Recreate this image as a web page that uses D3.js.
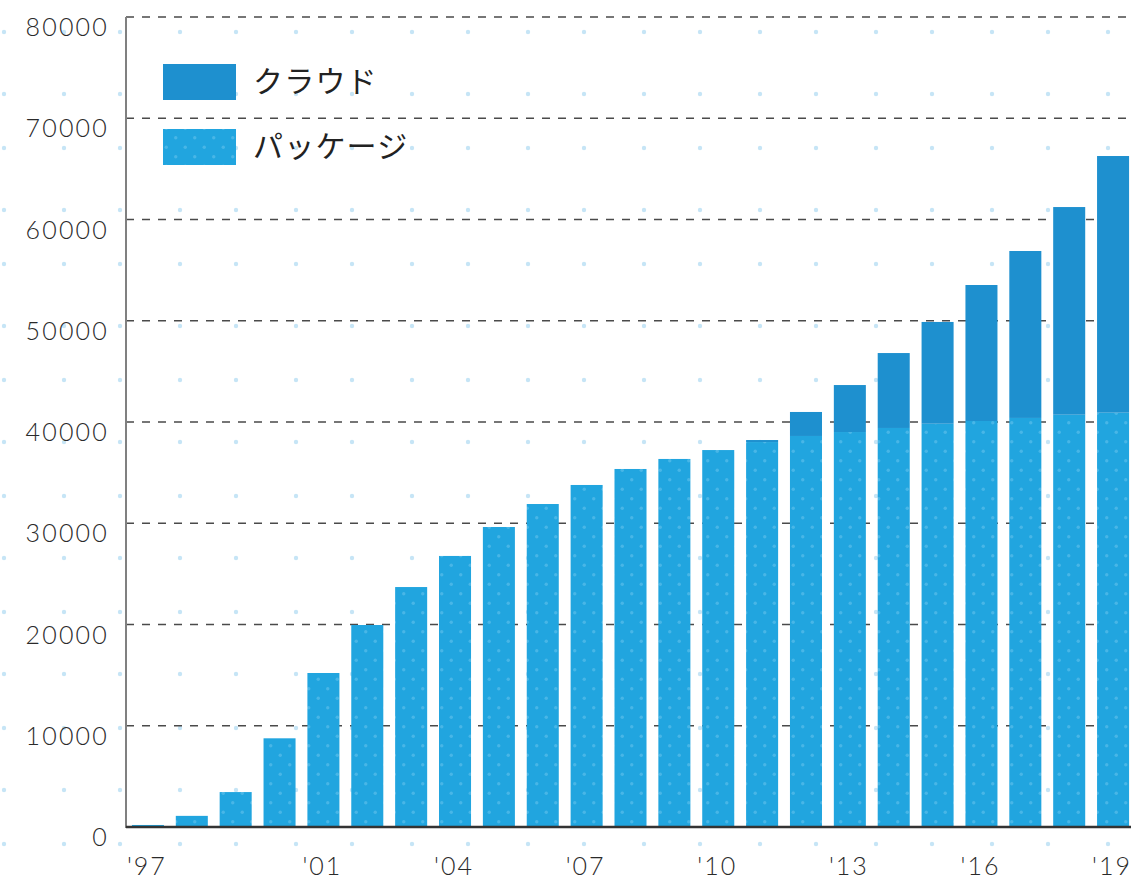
<!DOCTYPE html>
<html>
<head>
<meta charset="utf-8">
<script src="https://cdn.jsdelivr.net/npm/d3@7"></script>
<style>
  html, body { margin: 0; padding: 0; background: #fff; }
  svg { display: block; }
</style>
</head>
<body>
<div id="chart"></div>
<script>
// ---- data ----
const years = ["1997","1998","1999","2000","2001","2002","2003","2004","2005","2006","2007","2008","2009","2010","2011","2012","2013","2014","2015","2016","2017","2018","2019"];
const packageValues = [200, 1100, 3450, 8760, 15210, 19950, 23700, 26770, 29630, 31900, 33780, 35360, 36350, 37230, 38020, 38620, 39010, 39410, 39830, 40100, 40400, 40720, 40920];
const cloudValues   = [0, 0, 0, 0, 0, 0, 0, 0, 0, 0, 0, 0, 0, 0, 200, 2370, 4640, 7400, 10050, 13430, 16490, 20510, 25350];
const xTickYears = ["1997","2001","2004","2007","2010","2013","2016","2019"];
const yTicks = [0, 10000, 20000, 30000, 40000, 50000, 60000, 70000, 80000];
const seriesNames = ["パッケージ", "クラウド"];

// ---- layout ----
const W = 1131, H = 880;
const x0 = 126, x1 = 1135, yTop = 17, yBottom = 827;
const colorPackage = "#21a5df", colorCloud = "#1e90cf";

const svg = d3.select("#chart").append("svg").attr("width", W).attr("height", H);
const defs = svg.append("defs");

// background dot pattern
const bgPat = defs.append("pattern").attr("id", "bgdots")
  .attr("patternUnits", "userSpaceOnUse").attr("width", 116).attr("height", 116)
  .attr("x", 4 - 30).attr("y", 32 - 30);
[[30,30],[90,30],[30,92],[90,92]].forEach(([cx,cy]) =>
  bgPat.append("circle").attr("cx", cx).attr("cy", cy).attr("r", 2.2).attr("fill", "#c6e5f6"));

// bar dot pattern
const barPat = defs.append("pattern").attr("id", "bardots")
  .attr("patternUnits", "userSpaceOnUse").attr("width", 19).attr("height", 19);
barPat.append("rect").attr("width", 19).attr("height", 19).attr("fill", colorPackage);
[[4.75,4.75],[14.25,14.25]].forEach(([cx,cy]) =>
  barPat.append("circle").attr("cx", cx).attr("cy", cy).attr("r", 1.7).attr("fill", "#48b6e7"));

svg.append("rect").attr("width", W).attr("height", H).attr("fill", "url(#bgdots)");

// scales
const x = d3.scaleBand().domain(years).range([x0, x1]).paddingInner(0.27).paddingOuter(0.135);
const y = d3.scaleLinear().domain([0, 80000]).range([yBottom, yTop]);

// gridlines
svg.append("g").selectAll("line").data(yTicks.filter(t => t > 0)).join("line")
  .attr("x1", x0).attr("x2", W)
  .attr("y1", d => y(d)).attr("y2", d => y(d))
  .attr("stroke", "#4a4a4a").attr("stroke-width", 1.4).attr("stroke-dasharray", "8 8");

// stacked bars
const table = years.map((yr, i) => ({ year: yr, pkg: packageValues[i], cloud: cloudValues[i] }));
const stack = d3.stack().keys(["pkg", "cloud"])(table);
const fills = { pkg: "url(#bardots)", cloud: colorCloud };
svg.append("g").selectAll("g").data(stack).join("g")
  .attr("fill", d => fills[d.key])
  .selectAll("rect").data(d => d.filter(p => p[1] - p[0] > 0)).join("rect")
  .attr("x", d => x(d.data.year))
  .attr("width", x.bandwidth())
  .attr("y", d => y(d[1]))
  .attr("height", d => y(d[0]) - y(d[1]));

// y axis line
svg.append("line").attr("x1", x0).attr("x2", x0).attr("y1", yTop).attr("y2", yBottom + 1)
  .attr("stroke", "#808080").attr("stroke-width", 2);
// baseline
svg.append("line").attr("x1", x0).attr("x2", W).attr("y1", yBottom).attr("y2", yBottom)
  .attr("stroke", "#333").attr("stroke-width", 2.4);

const numFont = "Lato, 'Open Sans', sans-serif";
// y labels
svg.append("g").selectAll("text").data(yTicks).join("text")
  .attr("x", 109).attr("y", d => y(d) + 19)
  .attr("text-anchor", "end")
  .attr("font-family", numFont).attr("font-size", 25).attr("font-weight", 300)
  .attr("letter-spacing", "2.2px").attr("fill", "#2a2a2a")
  .text(d => d);

// x labels
svg.append("g").selectAll("text").data(xTickYears).join("text")
  .attr("x", d => x(d) + x.bandwidth() / 2 - 1).attr("y", 875)
  .attr("text-anchor", "middle")
  .attr("font-family", numFont).attr("font-size", 25).attr("font-weight", 300)
  .attr("letter-spacing", "2px").attr("fill", "#2a2a2a")
  .text(d => "'" + d.slice(2));

// legend
const legend = svg.append("g");
const legendItems = [
  { name: seriesNames[1], fill: colorCloud, y: 64 },
  { name: seriesNames[0], fill: "url(#bardots)", y: 129 }
];
legendItems.forEach(it => {
  legend.append("rect").attr("x", 163).attr("y", it.y).attr("width", 73).attr("height", 36).attr("fill", it.fill);
  legend.append("text").attr("x", 253).attr("y", it.y + 15)
    .attr("dominant-baseline", "central")
    .attr("font-family", "'Noto Sans CJK JP', sans-serif").attr("font-size", 30)
    .attr("letter-spacing", "1.2px").attr("fill", "#222")
    .text(it.name);
});
</script>
</body>
</html>
